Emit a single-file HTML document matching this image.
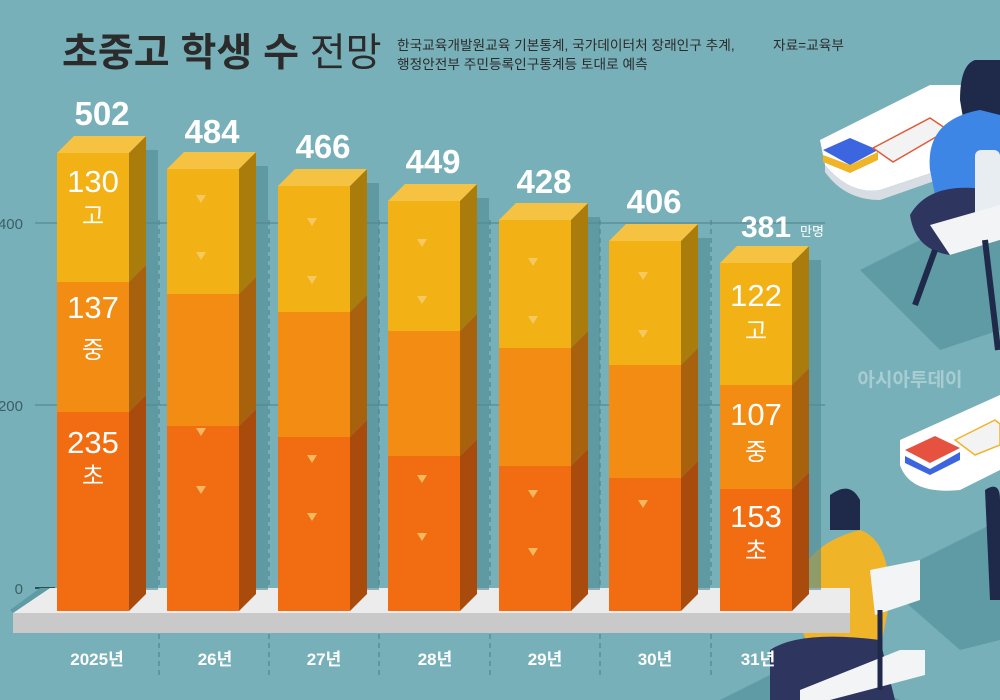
<!DOCTYPE html>
<html><head><meta charset="utf-8"><style>
body{margin:0;width:1000px;height:700px;overflow:hidden;background:#78b0b9;font-family:"Liberation Sans","Noto Sans CJK KR",sans-serif}
</style></head><body>
<svg width="1000" height="700" xmlns="http://www.w3.org/2000/svg" style="position:absolute;left:0;top:0">
<rect width="1000" height="700" fill="#78b0b9"/>
<polygon points="860,270 1000,200 1000,330 940,350" fill="#5f9ba4"/>
<polygon points="880,580 1000,520 1000,640 960,650" fill="#5f9ba4"/>
<polygon points="720,700 800,660 900,700" fill="#5f9ba4"/>
<path d="M820,140 L930,85 L1000,85 L1000,150 L880,190 Q850,195 825,165 Z" fill="#fff"/>
<path d="M825,165 Q850,195 880,190 L1000,150 L1000,158 L880,200 Q845,200 825,172Z" fill="#d8dde3"/>
<polygon points="823,150 850,138 878,150 850,165" fill="#3b66e0"/><polygon points="823,155 850,165 878,152 878,160 850,173 823,162" fill="#f0b429"/>
<polygon points="873,148 930,118 948,130 893,162" fill="#f3f3f3" stroke="#e05a3a" stroke-width="1.5"/>
<path d="M975,60 Q960,65 960,100 L965,130 L1000,140 L1000,60Z" fill="#1f2a4a"/>
<path d="M930,170 Q925,120 980,110 L1000,115 L1000,230 L940,220Z" fill="#3e86e6"/>
<path d="M910,215 Q930,180 990,190 L1000,240 L950,255 Q915,250 910,215Z" fill="#2e355f"/>
<rect x="975" y="150" width="25" height="80" rx="6" fill="#e8edf2"/>
<path d="M930,225 L1000,205 L1000,240 L950,255Z" fill="#f2f4f6"/>
<line x1="935" y1="250" x2="915" y2="305" stroke="#1f2a4a" stroke-width="6"/>
<line x1="985" y1="240" x2="998" y2="350" stroke="#1f2a4a" stroke-width="6"/>
<path d="M900,440 L1000,395 L1000,470 L960,490 Q910,495 900,465Z" fill="#fff"/>
<polygon points="905,450 935,436 960,448 930,463" fill="#e55240"/><polygon points="905,456 930,469 960,452 960,460 930,475 905,463" fill="#3b66e0"/>
<polygon points="955,440 995,420 1000,424 1000,445 975,455" fill="#f3f3f3" stroke="#f0b429" stroke-width="1.5"/>
<path d="M985,490 Q1000,480 1000,500 L1000,600 L990,600Z" fill="#1f2a4a"/>
<path d="M830,495 Q850,480 860,500 L860,530 L830,530Z" fill="#1f2a4a"/>
<path d="M790,600 Q800,545 860,530 Q890,540 890,600 L880,650 L810,650Z" fill="#f0b429"/>
<path d="M870,570 L920,560 L920,600 L875,615Z" fill="#f2f4f6"/>
<path d="M770,650 Q800,630 880,640 L895,700 L770,700Z" fill="#2e355f"/>
<path d="M800,690 L900,650 L925,650 L925,675 L830,700 L800,700Z" fill="#f2f4f6"/>
<line x1="880" y1="610" x2="880" y2="690" stroke="#1f2a4a" stroke-width="5"/>
<text x="910" y="386" font-size="19" font-weight="bold" fill="#a7cdd3" text-anchor="middle">아시아투데이</text>
<g stroke="#5e8f98" stroke-width="1.5">
<line x1="35" y1="223" x2="825" y2="223"/><line x1="35" y1="405" x2="825" y2="405"/>
</g>
<line x1="35" y1="588" x2="55" y2="588" stroke="#2f4f55" stroke-width="2"/>
<g stroke="#4f8590" stroke-width="1.2" stroke-dasharray="5,4">
<line x1="159" y1="220" x2="159" y2="675"/><line x1="269" y1="220" x2="269" y2="675"/><line x1="379" y1="220" x2="379" y2="675"/><line x1="490" y1="220" x2="490" y2="675"/><line x1="600" y1="220" x2="600" y2="675"/><line x1="711" y1="220" x2="711" y2="675"/>
</g>
<g font-size="15" fill="#3d5f66" text-anchor="end">
<text x="23" y="229">400</text><text x="23" y="411">200</text><text x="23" y="594">0</text>
</g>
<polygon points="50,588 850,588 850,613 13,613" fill="#ececec"/>
<polygon points="13,613 850,613 850,633 13,633" fill="#c9c9c9"/>
<polygon points="13,613 50,588 40,588 10,610" fill="#5f9ba4"/>
<g fill="#4f8a93" opacity="0.6">
<rect x="146" y="150" width="12" height="440"/><rect x="256" y="166" width="12" height="424"/><rect x="367" y="183" width="12" height="407"/><rect x="477" y="198" width="12" height="392"/><rect x="588" y="217" width="12" height="373"/><rect x="698" y="238" width="12" height="352"/><rect x="809" y="260" width="12" height="330"/>
</g>
<g>
<rect x="57" y="412" width="72" height="199" fill="#f26d12"/><rect x="57" y="282" width="72" height="130" fill="#f28c12"/><rect x="57" y="153" width="72" height="129" fill="#f2b114"/>
<polygon points="129,611 146,594 146,395 129,412" fill="#a84b0c"/><polygon points="129,412 146,395 146,265 129,282" fill="#a8620d"/><polygon points="129,282 146,265 146,136 129,153" fill="#aa7c0c"/>
<polygon points="57,153 74,136 146,136 129,153" fill="#f5c242"/>
<rect x="167" y="426" width="72" height="185" fill="#f26d12"/><rect x="167" y="294" width="72" height="132" fill="#f28c12"/><rect x="167" y="169" width="72" height="125" fill="#f2b114"/>
<polygon points="239,611 256,594 256,409 239,426" fill="#a84b0c"/><polygon points="239,426 256,409 256,277 239,294" fill="#a8620d"/><polygon points="239,294 256,277 256,152 239,169" fill="#aa7c0c"/>
<polygon points="167,169 184,152 256,152 239,169" fill="#f5c242"/>
<rect x="278" y="437" width="72" height="174" fill="#f26d12"/><rect x="278" y="312" width="72" height="125" fill="#f28c12"/><rect x="278" y="186" width="72" height="126" fill="#f2b114"/>
<polygon points="350,611 367,594 367,420 350,437" fill="#a84b0c"/><polygon points="350,437 367,420 367,295 350,312" fill="#a8620d"/><polygon points="350,312 367,295 367,169 350,186" fill="#aa7c0c"/>
<polygon points="278,186 295,169 367,169 350,186" fill="#f5c242"/>
<rect x="388" y="456" width="72" height="155" fill="#f26d12"/><rect x="388" y="331" width="72" height="125" fill="#f28c12"/><rect x="388" y="201" width="72" height="130" fill="#f2b114"/>
<polygon points="460,611 477,594 477,439 460,456" fill="#a84b0c"/><polygon points="460,456 477,439 477,314 460,331" fill="#a8620d"/><polygon points="460,331 477,314 477,184 460,201" fill="#aa7c0c"/>
<polygon points="388,201 405,184 477,184 460,201" fill="#f5c242"/>
<rect x="499" y="466" width="72" height="145" fill="#f26d12"/><rect x="499" y="348" width="72" height="118" fill="#f28c12"/><rect x="499" y="220" width="72" height="128" fill="#f2b114"/>
<polygon points="571,611 588,594 588,449 571,466" fill="#a84b0c"/><polygon points="571,466 588,449 588,331 571,348" fill="#a8620d"/><polygon points="571,348 588,331 588,203 571,220" fill="#aa7c0c"/>
<polygon points="499,220 516,203 588,203 571,220" fill="#f5c242"/>
<rect x="609" y="478" width="72" height="133" fill="#f26d12"/><rect x="609" y="365" width="72" height="113" fill="#f28c12"/><rect x="609" y="241" width="72" height="124" fill="#f2b114"/>
<polygon points="681,611 698,594 698,461 681,478" fill="#a84b0c"/><polygon points="681,478 698,461 698,348 681,365" fill="#a8620d"/><polygon points="681,365 698,348 698,224 681,241" fill="#aa7c0c"/>
<polygon points="609,241 626,224 698,224 681,241" fill="#f5c242"/>
<rect x="720" y="489" width="72" height="122" fill="#f26d12"/><rect x="720" y="385" width="72" height="104" fill="#f28c12"/><rect x="720" y="263" width="72" height="122" fill="#f2b114"/>
<polygon points="792,611 809,594 809,472 792,489" fill="#a84b0c"/><polygon points="792,489 809,472 809,368 792,385" fill="#a8620d"/><polygon points="792,385 809,368 809,246 792,263" fill="#aa7c0c"/>
<polygon points="720,263 737,246 809,246 792,263" fill="#f5c242"/>
</g>
<g fill="#f7d27a" opacity="0.75">
<polygon points="196,195 206,195 201,203"/><polygon points="196,252 206,252 201,260"/><polygon points="196,428 206,428 201,436"/><polygon points="196,486 206,486 201,494"/>
<polygon points="307,218 317,218 312,226"/><polygon points="307,276 317,276 312,284"/><polygon points="307,455 317,455 312,463"/><polygon points="307,513 317,513 312,521"/>
<polygon points="417,239 427,239 422,247"/><polygon points="417,296 427,296 422,304"/><polygon points="417,475 427,475 422,483"/><polygon points="417,533 427,533 422,541"/>
<polygon points="528,258 538,258 533,266"/><polygon points="528,316 538,316 533,324"/><polygon points="528,490 538,490 533,498"/><polygon points="528,548 538,548 533,556"/>
<polygon points="638,272 648,272 643,280"/><polygon points="638,330 648,330 643,338"/><polygon points="638,500 648,500 643,508"/>
</g>
<g fill="#fff" font-weight="bold" font-size="33" text-anchor="middle">
<text x="102" y="125">502</text><text x="212" y="143">484</text><text x="323" y="158">466</text><text x="433" y="173">449</text><text x="544" y="193">428</text><text x="654" y="213">406</text>
<text x="766" y="237" font-size="30">381</text>
</g>
<text x="800" y="236" font-size="13" fill="#fff">만명</text>
<g fill="#fff" font-size="31" text-anchor="middle">
<text x="93" y="192">130</text><text x="93" y="224" font-size="24">고</text>
<text x="93" y="318">137</text><text x="93" y="358" font-size="24">중</text>
<text x="93" y="453">235</text><text x="93" y="484" font-size="24">초</text>
<text x="756" y="306">122</text><text x="756" y="339" font-size="24">고</text>
<text x="756" y="425">107</text><text x="756" y="460" font-size="24">중</text>
<text x="756" y="527">153</text><text x="756" y="559" font-size="24">초</text>
</g>
<g fill="#fff" font-weight="bold" font-size="17" text-anchor="middle">
<text x="97" y="665">2025년</text><text x="215" y="665">26년</text><text x="324" y="665">27년</text><text x="435" y="665">28년</text><text x="545" y="665">29년</text><text x="655" y="665">30년</text><text x="758" y="665">31년</text>
</g>
<text x="62" y="66" font-size="39" font-weight="bold" fill="#2b2b2b">초중고 학생 수 <tspan font-weight="normal">전망</tspan></text>
<g font-size="13.7" fill="#2b2b2b">
<text x="397" y="50">한국교육개발원교육 기본통계, 국가데이터처 장래인구 추계,</text>
<text x="397" y="69">행정안전부 주민등록인구통계등 토대로 예측</text>
<text x="773" y="50">자료=교육부</text>
</g>
</svg>
</body></html>
